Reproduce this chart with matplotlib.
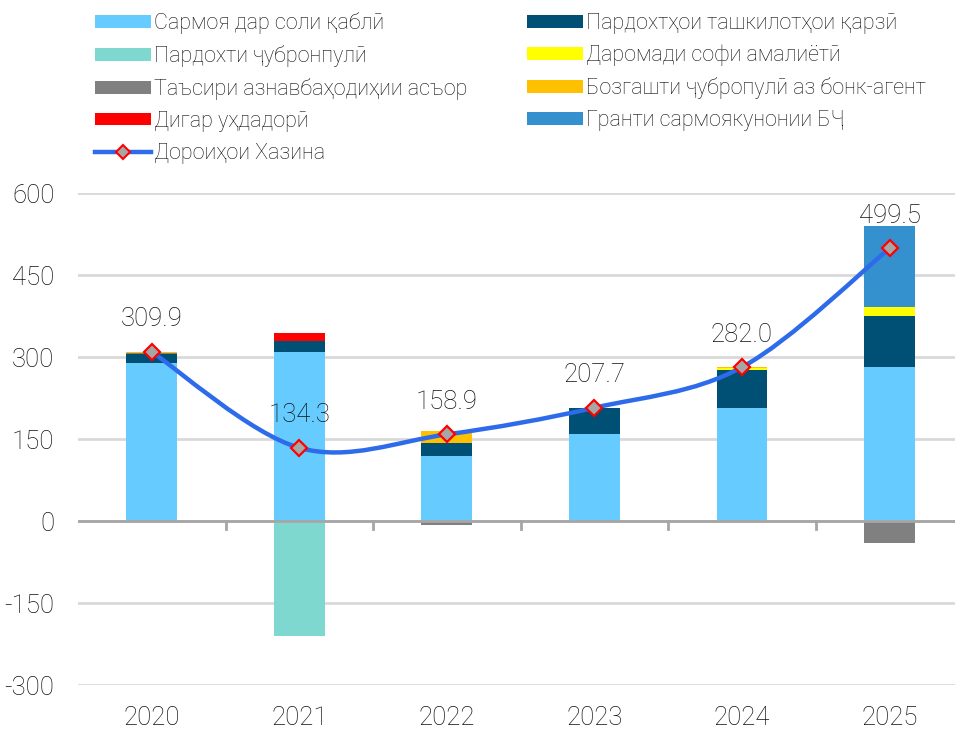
import matplotlib
matplotlib.use('Agg')
import matplotlib.pyplot as plt
from matplotlib.patches import Patch, PathPatch
from matplotlib.lines import Line2D
from matplotlib.path import Path

plt.rcParams['font.family'] = ['Roboto', 'DejaVu Sans']
plt.rcParams['font.weight'] = 'light'
plt.rcParams['axes.unicode_minus'] = False

# Маълумот
years = ['2020', '2021', '2022', '2023', '2024', '2025']
prior_capital = [290, 310, 120, 159, 208, 282]
debt_payments = [16, 19, 24, 47.5, 69, 93]
compensation = [0, -209.5, 0, 0, 0, 0]
net_income = [1, -1.2, 0, 0.6, 4, 17]
revaluation = [1, 0, -7.1, 0, 0, -40.5]
refund = [1.9, 0, 22, 0.6, 1, 0]
other = [0, 16, 0, 0, 0, 0]
grant = [0, 0, 0, 0, 0, 148]
treasury = [309.9, 134.3, 158.9, 207.7, 282.0, 499.5]

series = [
    ('Сармоя дар соли қаблӣ', prior_capital, '#66CCFF'),
    ('Пардохтҳои ташкилотҳои қарзӣ', debt_payments, '#004F75'),
    ('Пардохти ҷубронпулӣ', compensation, '#7ED8D0'),
    ('Даромади софи амалиётӣ', net_income, '#FFFF00'),
    ('Таъсири азнавбаҳодиҳии асъор', revaluation, '#808080'),
    ('Бозгашти ҷубропулӣ аз бонк-агент', refund, '#FFC000'),
    ('Дигар уҳдадорӣ', other, '#FF0000'),
    ('Гранти сармоякунонии БҶ', grant, '#3590CE'),
]
line_label = 'Дороиҳои Хазина'
line_color = '#2E6BEB'
text_color = '#111111'

fig = plt.figure(figsize=(9.55, 7.31), dpi=100)
ax = fig.add_axes([0.0817, 0.0629, 0.927, 0.6724])

x = list(range(len(years)))
pos_base = [0.0] * len(years)
neg_base = [0.0] * len(years)
handles = {}
for name, vals, color in series:
    bottoms = []
    for i, v in enumerate(vals):
        if v >= 0:
            bottoms.append(pos_base[i])
            pos_base[i] += v
        else:
            bottoms.append(neg_base[i])
            neg_base[i] += v
    ax.bar(x, vals, bottom=bottoms, width=0.345, color=color, zorder=2)
    handles[name] = Patch(facecolor=color, label=name)

# сглаженная линия (Безье)
pts = list(zip(x, treasury))
verts = [pts[0]]
codes = [Path.MOVETO]
n = len(pts)
for i in range(n - 1):
    p0 = pts[i - 1] if i > 0 else pts[i]
    p1 = pts[i]
    p2 = pts[i + 1]
    p3 = pts[i + 2] if i + 2 < n else pts[i + 1]
    c1 = (p1[0] + (p2[0] - p0[0]) / 6, p1[1] + (p2[1] - p0[1]) / 6)
    c2 = (p2[0] - (p3[0] - p1[0]) / 6, p2[1] - (p3[1] - p1[1]) / 6)
    verts += [c1, c2, p2]
    codes += [Path.CURVE4] * 3
ax.add_patch(PathPatch(Path(verts, codes), facecolor='none', edgecolor=line_color,
                       lw=3.2, zorder=4, capstyle='round'))
ax.plot(x, treasury, ls='none', marker='D', ms=8, mfc='#A6A6A6', mec='#FF0000',
        mew=1.6, zorder=5)
for xi, v in zip(x, treasury):
    ax.annotate(f'{v:.1f}', (xi, v), xytext=(0, 23.5), textcoords='offset points',
                ha='center', va='center', fontsize=18.5, color=text_color, zorder=6)

ax.set_xlim(-0.5, 5.5)
ax.set_ylim(-300, 600)
ax.set_yticks([-300, -150, 0, 150, 300, 450, 600])
ax.set_xticks(x)
ax.set_xticklabels(years)
ax.tick_params(axis='both', length=0, labelsize=18.5, colors=text_color)
ax.tick_params(axis='y', pad=17)
ax.tick_params(axis='x', pad=15)
ax.grid(axis='y', color='#D9D9D9', lw=2, zorder=0)
for s in ax.spines.values():
    s.set_visible(False)
ax.axhline(0, color='#A6A6A6', lw=2, zorder=3)
for b in [0.5, 1.5, 2.5, 3.5, 4.5]:
    ax.plot([b, b], [0, -14], color='#A6A6A6', lw=2, zorder=3, clip_on=False)

line_handle = Line2D([], [], color=line_color, lw=3.2, marker='D', ms=7,
                     mfc='#A6A6A6', mec='#FF0000', mew=1.5, label=line_label)
order_col1 = [series[0][0], series[2][0], series[4][0], series[6][0]]
order_col2 = [series[1][0], series[3][0], series[5][0], series[7][0]]
leg_handles = [handles[k] for k in order_col1] + [line_handle] + [handles[k] for k in order_col2]
fig.legend(handles=leg_handles, ncol=2, loc='upper left', bbox_to_anchor=(0.087, 1.0),
           frameon=False, fontsize=15.5, handlelength=2.6, handleheight=0.53,
           handletextpad=0.15, labelspacing=0.51, columnspacing=2.75, borderaxespad=0.15,
           labelcolor=text_color)

fig.savefig('out.png', dpi=100)
